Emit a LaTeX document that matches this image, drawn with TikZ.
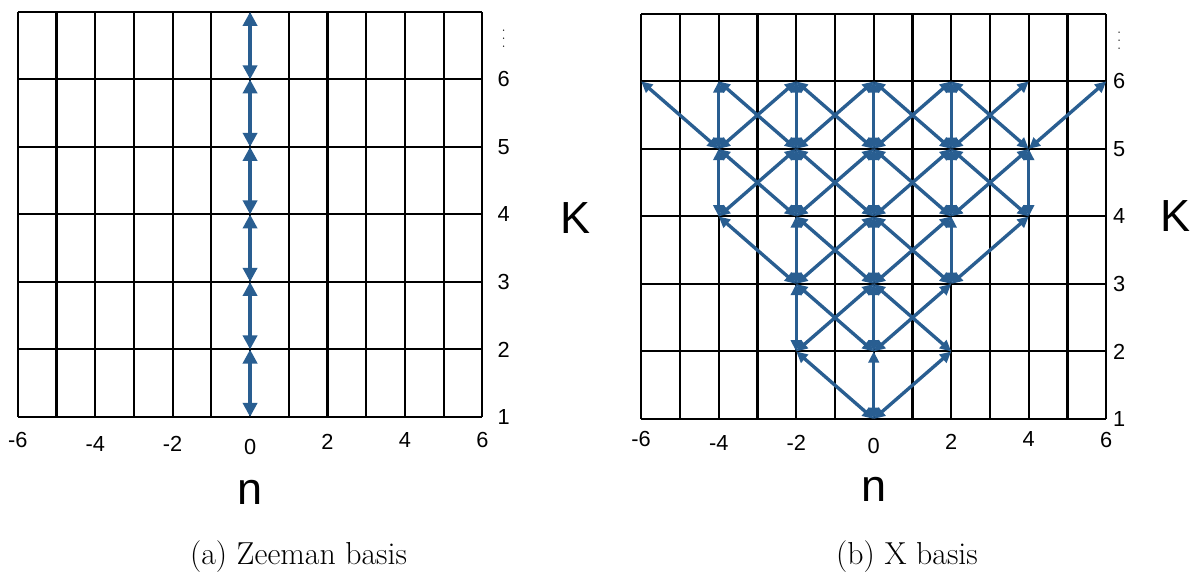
\documentclass[tikz,border=0pt]{standalone}
\usepackage{fontspec}
\setsansfont{Liberation Sans}
\usepackage{tikz}
\usetikzlibrary{positioning}
\usetikzlibrary{arrows.meta}
\definecolor{figFlecha}{RGB}{41,94,145}
\newcommand{\puntosv}{.\kern3.2pt.\kern3.2pt.}
\tikzset{
  rejilla/.style={line width=1.5pt, draw=black},
  flecha/.style={arrows={Triangle[length=10pt,width=10pt]-Triangle[length=10pt,width=10pt]},
    line width=2.6pt, draw=figFlecha},
  flechab/.style={arrows={Triangle[length=8pt,width=7.5pt]-Triangle[length=8pt,width=7.5pt]},
    line width=2.4pt, draw=figFlecha},
  numero/.style={font=\sffamily\fontsize{15.5}{18}\selectfont, inner sep=0pt},
  eje/.style={font=\sffamily\fontsize{32}{38}\selectfont, inner sep=0pt},
  puntos/.style={font=\fontsize{9}{9}\selectfont, inner sep=0pt, rotate=90},
  titulo/.style={font=\fontsize{22.6}{27}\selectfont, inner sep=0pt}
}

\begin{document}
\begin{tikzpicture}[x=0.025cm, y=0.025cm]
  \useasboundingbox (0,0) rectangle (1191,574);

  % (a) Zeeman basis
  \begin{scope}[shift={(6.25cm,2.2375cm)}, x=0.9675cm, y=1.6875cm]
    \foreach \n in {-6,...,6} \draw[rejilla] (\n,1) -- (\n,7);
    \foreach \k in {1,...,7} \draw[rejilla] (-6,\k) -- (6,\k);
    \foreach \k in {1,...,7} \coordinate (a\k) at (0,\k);
    \foreach \k [count=\j from 2] in {1,...,6} \draw[flecha] (a\k) -- (a\j);
    \foreach \k in {1,...,6} \node[numero] (ka\k) at (6.55,\k) {\k};
    \node[puntos] (dotsa) at (6.55,6.6) {\puntosv};
    \foreach \n/\y in {-6/0.66,-4/0.6,-2/0.6,0/0.56,2/0.63,4/0.66,6/0.66}
      \node[numero] (na\n) at (\n,\y) {\n};
    \node[eje] (Ka) at (8.4,3.95) {K};
    \node[eje] (nla) at (0,-0.11) {n};
  \end{scope}

  % (b) X basis
  \begin{scope}[shift={(21.8375cm,2.1875cm)}, x=0.96875cm, y=1.6875cm]
    \foreach \n in {-6,...,6} \draw[rejilla] (\n,1) -- (\n,7);
    \foreach \k in {1,...,7} \draw[rejilla] (-6,\k) -- (6,\k);
    \foreach \n in {-6,-4,...,6}
      \foreach \k in {1,...,6} \coordinate (b\n-\k) at (\n,\k);
    \foreach \a/\b/\c/\d in {0/1/-2/2, 0/1/0/2, 0/1/2/2,
        -2/2/-2/3, -2/2/0/3, 0/2/-2/3, 0/2/0/3, 0/2/2/3, 2/2/0/3,
        -4/4/-2/3, -2/3/-2/4, -2/3/0/4, -2/4/0/3, 0/3/0/4, 0/3/2/4,
        0/4/2/3, 2/3/2/4, 2/3/4/4,
        -4/4/-4/5, -4/5/-2/4, -4/4/-2/5, -2/4/-2/5, -2/4/0/5, -2/5/0/4,
        0/4/0/5, 0/4/2/5, 0/5/2/4, 2/4/2/5, 2/4/4/5, 2/5/4/4, 4/4/4/5,
        -6/6/-4/5, -4/5/-4/6, -4/6/-2/5, -4/5/-2/6, -2/5/-2/6, -2/6/0/5,
        -2/5/0/6, 0/5/0/6, 0/6/2/5, 0/5/2/6, 2/5/2/6, 2/6/4/5, 2/5/4/6,
        4/5/6/6}
      \draw[flechab] (b\a-\b) -- (b\c-\d);
    \foreach \k in {1,...,6} \node[numero] (kb\k) at (6.33,\k) {\k};
    \node[puntos] (dotsb) at (6.33,6.6) {\puntosv};
    \foreach \n/\y in {-6/0.7,-4/0.64,-2/0.64,0/0.6,2/0.66,4/0.7,6/0.69}
      \node[numero] (nb\n) at (\n,\y) {\n};
    \node[eje] (Kb) at (7.78,4.0) {K};
    \node[eje] (nlb) at (0,-0.05) {n};
  \end{scope}

  \node[titulo] (capa) at (298.5,17) {(a) Zeeman basis};
  \node[titulo] (capb) at (907,17) {(b) X basis};
\end{tikzpicture}
\end{document}
